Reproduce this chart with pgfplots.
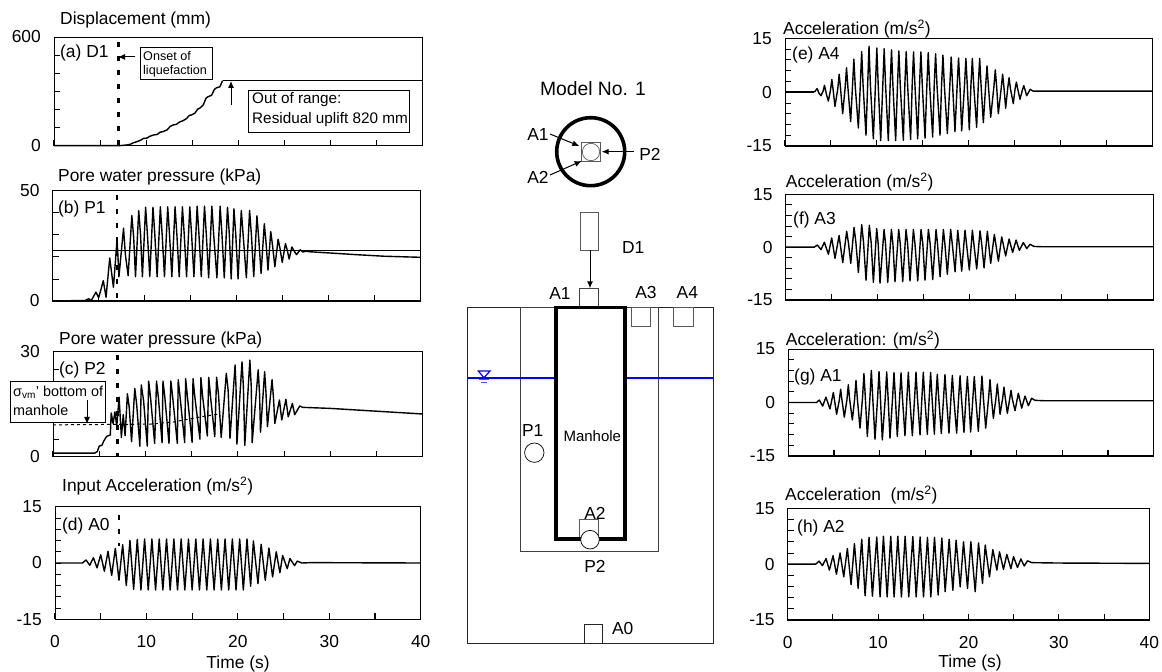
\documentclass[border=0pt]{standalone}
\usepackage{fontspec}
\setmainfont{Liberation Sans}
\usepackage{pgfplots}
\pgfplotsset{compat=1.18}
\usetikzlibrary{arrows.meta}
\definecolor{waterblue}{RGB}{0,0,255}
\pgfplotsset{
  panel/.style={
    scale only axis, anchor=south west, xmin=0, xmax=40,
    xtick={0,5,...,40}, xticklabels={,,,,,,,,},
    tick pos=left, tick align=inside,
    major tick length=6pt,
    xtick style={draw=black,line width=1.1pt},
    ytick style={draw=black,line width=0.8pt},
    axis line style={line width=0.8pt},
    yticklabel style={inner sep=0pt,xshift=-13pt},
    xticklabel style={inner sep=0pt,yshift=-16pt},
    after end axis/.code={
      \draw[line width=1.5pt] (rel axis cs:0,0)--(rel axis cs:1,0);
    },
    clip=false,
    trace/.style={black,line width=1.4pt,line join=round,mark=none},
  },
  acc/.style={ymin=-15,ymax=15,ytick={-15,-12,...,15},yticklabels={-15,,,,,0,,,,,15}},
  labelled/.style={xticklabels={0,,10,,20,,30,,40}},
}
\tikzset{vline/.style={black,line width=2.5pt,dash pattern=on 5pt off 9pt}}
\begin{document}
\begin{tikzpicture}[font=\fontsize{17.4}{20}\selectfont]
\useasboundingbox (0pt,0pt) rectangle (1162pt,672pt);

% (a) D1
\begin{axis}[panel,at={(54pt,526.3pt)},width=368.5pt,height=108.7pt,
  ymin=0,ymax=600,ytick={0,100,...,600},yticklabels={0,,,,,,600}]
\addplot[vline] coordinates {(7,570)(7,0)};
\addplot[trace] coordinates {(0,0)(7,0)(7.5,2)(7.9,4)(8.3,8)(8.6,16)(9,22)(9.4,30)(9.7,40)(10.1,42)(10.4,52)(10.8,59)(11.2,62)(11.5,74)(11.9,79)(12.3,88)(12.6,106)(12.9,114)(13.3,118)(13.6,130)(14,138)(14.4,150)(14.7,168)(14.9,169)(15.3,180)(15.6,202)(15.8,206)(16.2,225)(16.5,262)(16.7,270)(17.1,278)(17.4,310)(17.65,320)(18,325)(18.3,359)};
\addplot[black,line width=0.9pt] coordinates {(18.3,359)(40,359)};
\end{axis}

% (b) P1
\begin{axis}[panel,at={(52.7pt,371pt)},width=368pt,height=110.3pt,
  ymin=0,ymax=50,ytick={0,10,...,50},yticklabels={0,,,,,50}]
\addplot[vline] coordinates {(7,48)(7,0)};
\addplot[black,line width=0.8pt] coordinates {(0,22.8)(40,22.8)};
\addplot[trace] coordinates {(0,0)(3,0.2)(3.5,0.2)(3.9,1)(4.2,0.3)(4.7,4)(5,1.5)(5.5,9.2)(5.8,1.7)(6.2,19.5)(6.6,6.2)(7,28)(7.2,11)(7.7,33)(7.9,21)(8.2,11.5)(8.6,38.7)(8.8,29)(9,11)(9.35,41)(9.55,30)(9.75,11)(10.1,42.5)(10.3,30)(10.55,11)(10.9,42.5)(11.1,30)(11.35,11)(11.7,42.7)(11.9,30)(12.15,11)(12.5,42.7)(12.7,30)(12.95,11)(13.3,42.7)(13.5,30)(13.75,11)(14.1,42.7)(14.3,30)(14.55,11)(14.9,42.7)(15.1,30)(15.35,11)(15.7,43)(15.9,30)(16.15,11)(16.5,43)(16.7,30)(16.95,10.5)(17.3,43)(17.5,30)(17.85,10.5)(18.2,43)(18.4,30)(18.65,10.5)(19,42.5)(19.2,30)(19.4,10)(19.7,41.8)(19.9,30)(20.15,10)(20.5,41)(20.7,30)(21.05,10.5)(21.4,41)(21.6,30)(21.85,11)(22.2,38.6)(22.4,28)(22.65,12.5)(23,35)(23.2,26)(23.4,14)(23.7,31.5)(23.9,25)(24.15,15.5)(24.5,28)(24.7,24)(24.95,17.5)(25.3,26)(25.5,23)(25.7,19)(26,24.5)(26.2,23)(26.5,21)(26.9,23.2)(27.2,22.2)(27.5,22.6)(28,22.3)(30,21.8)(33,21)(36,20.3)(40,19.8)};
\end{axis}

% (c) P2
\begin{axis}[panel,at={(53pt,215.3pt)},width=369.7pt,height=105pt,
  ymin=0,ymax=30,ytick={0,5,...,30},yticklabels={0,,,,,,30}]
\addplot[vline] coordinates {(7,29)(7,0)};
\addplot[black,line width=1pt,dash pattern=on 3pt off 3pt] coordinates {(0,9.1)(10.5,9.3)(13,9.9)(16.2,11.5)(18,12.2)};
\addplot[trace] coordinates {(0,1)(4.5,1)(4.8,1.5)(5,3)(5.3,3.3)(5.5,4.5)(5.8,5.8)(6.2,6.2)(6.3,12.5)(6.5,9.5)(6.7,12.8)(6.9,8.7)(7.15,17)(7.4,5.5)(7.6,12)(7.8,6)(8.05,18)(8.25,14)(8.5,4.3)(8.85,19.5)(9.05,15)(9.4,3)(9.55,20.5)(9.8,16)(10.2,3)(10.35,21.6)(10.55,17)(11,3.8)(11.2,21.6)(11.4,17)(11.8,4)(11.9,21.6)(12.1,17)(12.55,3.8)(12.75,21.6)(12.95,17)(13.45,3.8)(13.55,22)(13.75,17)(14.25,4)(14.35,22.3)(14.55,17)(15.05,4.1)(15.15,22.3)(15.35,17)(15.9,5)(16,22.6)(16.2,17)(16.7,5.9)(16.85,22.7)(17.05,17)(17.5,5.7)(17.7,22.7)(17.9,18)(18.2,5.5)(18.75,23.8)(18.95,19)(19.15,5.2)(19.7,26.2)(19.8,20)(19.9,3.6)(20.45,27.1)(20.6,20)(20.75,3.2)(21.3,27.6)(21.45,20)(21.55,4)(22.2,24.8)(22.35,18)(22.45,7)(22.9,24.3)(23.05,18)(23.2,8.6)(23.7,22)(23.85,17)(24,9.5)(24.5,16.2)(24.75,10.5)(25.2,16.4)(25.45,11.4)(25.9,15.2)(26.15,12)(26.7,14.5)(27,14.1)(30,13.8)(35,13)(40,12.2)};
\end{axis}

% (d) A0
\begin{axis}[panel,acc,labelled,at={(55pt,52.7pt)},width=365.7pt,height=112.6pt]
\addplot[vline] coordinates {(7,12.8)(7,4.5)};
\addplot[trace] coordinates {(0,0)(3,0)(3.4,0.8)(3.8,-0.6)(4.2,1.4)(4.6,-1.3)(5,2.2)(5.4,-2.2)(5.8,3.1)(6.2,-3.3)(6.6,3.9)(7,-4.6)(7.4,4.9)(7.8,-6)(8.2,6)(8.6,-7)(9,6.3)(9.4,-7.2)(9.8,6.4)(10.2,-7.2)(10.6,6.4)(11,-7.2)(11.4,6.4)(11.8,-7.2)(12.2,6.4)(12.6,-7.2)(13,6.4)(13.4,-7.2)(13.8,6.4)(14.2,-7.2)(14.6,6.4)(15,-7.2)(15.4,6.4)(15.8,-7.2)(16.2,6.4)(16.6,-7.2)(17,6.4)(17.4,-7.2)(17.8,6.4)(18.2,-7.2)(18.6,6.4)(19,-7.2)(19.4,6.4)(19.8,-7.2)(20.2,6.4)(20.6,-7.2)(21,6.4)(21.4,-6.2)(21.7,5.9)(22.2,-5.5)(22.55,5)(23,-4.6)(23.4,4)(23.8,-3.7)(24.2,3)(24.6,-2.6)(24.9,2)(25.4,-1.5)(25.7,1.2)(26.2,-0.7)(26.5,0.5)(27,0)(28,0.1)(40,0)};
\end{axis}

% (e) A4
\begin{axis}[panel,acc,at={(785pt,526pt)},width=367.3pt,height=107.7pt]
\addplot[black,line width=1.8pt] coordinates {(0,0)(3.2,0)};
\addplot[trace] coordinates {(3.2,0)(3.5,1)(3.7,-0.3)(3.92,-1)(4.15,0.3)(4.3,1.9)(4.5,-0.5)(4.72,-2.5)(4.95,0.5)(5.1,3.5)(5.25,0.5)(5.44,-4)(5.75,1)(5.9,5)(6.05,1)(6.28,-6)(6.55,1.3)(6.7,6.8)(6.85,1.3)(7.15,-8.2)(7.35,1.6)(7.5,9.2)(7.65,1.6)(7.99,-10)(8.2,2)(8.35,11.3)(8.5,2)(8.82,-12)(9,2)(9.15,12.8)(9.3,2)(9.62,-13)(9.85,2)(10,12.3)(10.15,2)(10.42,-13.5)(10.65,2)(10.8,12.1)(10.95,2)(11.25,-13.5)(11.45,2)(11.6,11.8)(11.75,2)(12.05,-13.5)(12.25,2)(12.4,11.5)(12.55,2)(12.89,-13.4)(13.05,2)(13.2,11.3)(13.35,2)(13.68,-13.2)(13.85,2)(14,11.2)(14.15,2)(14.45,-13)(14.65,2)(14.8,11.2)(14.95,2)(15.25,-12.8)(15.45,2)(15.6,11)(15.75,2)(16.08,-12.5)(16.25,2)(16.4,10.7)(16.55,2)(16.88,-12)(17.05,2)(17.2,10.3)(17.35,2)(17.68,-11.5)(17.95,2)(18.1,9.8)(18.25,2)(18.51,-11)(18.75,2)(18.9,9.5)(19.05,2)(19.24,-10.8)(19.55,2)(19.7,9.4)(19.85,2)(20.07,-10.5)(20.25,2)(20.4,9.4)(20.55,2)(20.87,-9.8)(21.05,2)(21.2,9.4)(21.35,2)(21.6,-8.5)(21.85,1.8)(22,7.3)(22.15,1.8)(22.4,-7)(22.75,1.5)(22.9,6.2)(23.05,1.5)(23.23,-6)(23.55,1.2)(23.7,5)(23.85,1.2)(24.03,-4.5)(24.25,1)(24.4,4)(24.55,1)(24.86,-3.2)(25.05,0.8)(25.2,2.8)(25.35,0.8)(25.59,-2)(25.85,0.6)(26,1.8)(26.15,0.6)(26.32,-1)(26.7,0.8)(27,0.3)(40,0.3)};
\end{axis}

% (f) A3
\begin{axis}[panel,acc,at={(785.7pt,372pt)},width=368pt,height=105.7pt]
\addplot[trace] coordinates {(0,0)(3.1,0)(3.44,0.6)(3.84,-0.7)(4.2,1.4)(4.64,-2)(5,2.6)(5.36,-3.2)(5.8,3.3)(6.2,-4.4)(6.63,4.5)(6.83,1)(7.07,-4.6)(7.43,5.6)(7.63,1.3)(7.9,-7.2)(8.26,6.4)(8.46,1.3)(8.73,-9.4)(9.09,6.2)(9.29,1.3)(9.53,-10)(9.89,5.3)(10.05,1)(10.25,-10.2)(10.69,5)(10.85,1)(11.09,-10)(11.49,5)(11.65,1)(11.88,-9.8)(12.28,5)(12.45,1)(12.72,-9.8)(13.08,5)(13.25,1)(13.51,-9.6)(13.88,5)(14.05,1)(14.35,-9.6)(14.71,5)(14.9,1)(15.14,-9.4)(15.51,5)(15.7,1)(15.98,-9.2)(16.34,5)(16.5,1)(16.78,-8.4)(17.14,5)(17.3,1)(17.57,-7.7)(17.93,5)(18.1,1)(18.41,-7)(18.7,4.8)(18.85,1)(19.13,-6.8)(19.49,4.8)(19.65,1)(19.96,-6.5)(20.29,4.8)(20.45,1)(20.76,-6.2)(21.12,4.6)(21.3,1)(21.56,-5.9)(21.92,4.5)(22.28,-4.6)(22.68,3.6)(23.12,-4)(23.48,2.9)(23.91,-2.5)(24.28,2.3)(24.67,-1.5)(25.04,2)(25.4,-0.9)(25.83,1.3)(26.2,-0.4)(26.56,0.8)(27,0.2)(28,0.1)(40,0.1)};
\end{axis}

% (g) A1
\begin{axis}[panel,acc,at={(788.3pt,216pt)},width=365.4pt,height=107pt]
\addplot[trace] coordinates {(0,0)(3.1,0)(3.39,0.7)(3.76,-1)(4.12,1.5)(4.56,-1.8)(4.93,2.8)(5.29,-3.3)(5.58,0.6)(5.73,3.7)(5.88,0.6)(6.13,-4.1)(6.42,0.8)(6.57,5)(6.72,0.8)(7.01,-4.9)(7.26,1)(7.41,6.2)(7.56,1)(7.85,-7.2)(8.13,1.5)(8.28,8.1)(8.43,1.5)(8.65,-9.5)(8.94,1.5)(9.09,9)(9.24,1.5)(9.49,-10.3)(9.78,1.5)(9.93,8.7)(10.08,1.5)(10.29,-10.5)(10.62,1.5)(10.77,8.6)(10.92,1.5)(11.13,-10)(11.42,1.5)(11.57,8.4)(11.72,1.5)(11.93,-9.5)(12.19,1.5)(12.34,8.3)(12.49,1.5)(12.77,-9.3)(12.99,1.5)(13.14,8.5)(13.29,1.5)(13.58,-9.3)(13.83,1.5)(13.98,8.5)(14.13,1.5)(14.42,-9.1)(14.63,1.5)(14.78,8.5)(14.93,1.5)(15.22,-8.9)(15.43,1.5)(15.58,8.4)(15.73,1.5)(15.99,-8.9)(16.16,1.5)(16.31,7.9)(16.46,1.5)(16.75,-8.7)(17,1.5)(17.15,7.8)(17.3,1.5)(17.59,-8.6)(17.81,1.5)(17.96,7.6)(18.11,1.5)(18.43,-8.6)(18.65,1.5)(18.8,7.5)(18.95,1.5)(19.23,-8.4)(19.45,1.5)(19.6,7.3)(19.75,1.5)(19.96,-8.3)(20.21,1.5)(20.36,7.3)(20.51,1.5)(20.8,-8.1)(21.05,1.5)(21.2,7.4)(21.35,1.5)(21.61,-7.2)(21.93,1.4)(22.08,6.4)(22.23,1.4)(22.45,-4.4)(22.73,1.2)(22.88,5.2)(23.03,1.2)(23.18,-3.3)(23.46,1.1)(23.61,4.3)(23.76,1.1)(23.98,-3)(24.23,0.9)(24.38,3.4)(24.53,0.9)(24.82,-2.3)(25.18,2.6)(25.55,-1.6)(25.91,1.8)(26.28,-0.9)(26.64,1.2)(27,0.6)(28,0.5)(40,0.5)};
\end{axis}

% (h) A2
\begin{axis}[panel,acc,labelled,at={(787.7pt,52pt)},width=361.6pt,height=111.7pt]
\addplot[trace] coordinates {(0,0)(3.1,0)(3.47,0.8)(3.84,-0.4)(4.24,1.5)(4.61,-1.6)(5.02,2.3)(5.39,-2.7)(5.79,3)(6.2,-3.4)(6.6,4.2)(7.01,-5.5)(7.38,5.5)(7.79,-6.5)(8.19,6.7)(8.56,-8.5)(9,7.2)(9.37,-8.6)(9.85,7.3)(10.22,-8.8)(10.59,7.5)(11,-8.8)(11.4,7.5)(11.77,-8.8)(12.18,7.5)(12.58,-8.8)(12.99,7.5)(13.39,-8.8)(13.84,7.4)(14.21,-8.8)(14.65,7.3)(15.02,-8.8)(15.46,7.2)(15.83,-8.8)(16.24,7.2)(16.64,-8.3)(17.05,7)(17.42,-7.4)(17.86,6.7)(18.27,-7)(18.63,6.4)(19.08,-6.1)(19.45,6)(19.89,-6.5)(20.26,6)(20.74,-7.4)(21.11,5.7)(21.55,-5.2)(21.85,5.1)(22.32,-3.4)(22.69,3.9)(23.14,-1.6)(23.43,3.3)(23.87,-1.4)(24.24,2.6)(24.69,-1.2)(24.98,2)(25.42,-0.9)(25.79,1.4)(26.16,-0.5)(26.53,0.9)(27,0.4)(30,0.3)(40,0.2)};
\end{axis}

% Annotations and diagram, in reference pixels
\begin{scope}[x=1pt,y=-1pt,yshift=672pt]
  \tikzset{lab/.style={anchor=west,inner sep=0pt},ctr/.style={inner sep=0pt},
           arr/.style={black,line width=1pt,-{Latex[length=7pt,width=6pt]}}}
  % titles
  \node[lab] at (60,20) {Displacement (mm)};
  \node[lab] at (58,177) {Pore water pressure (kPa)};
  \node[lab] at (59,340) {Pore water pressure (kPa)};
  \node[lab] at (62,486) {Input Acceleration (m/s\textsuperscript{2})};
  \node[lab] at (783,29) {Acceleration (m/s\textsuperscript{2})};
  \node[lab] at (785.7,182) {Acceleration (m/s\textsuperscript{2})};
  \node[lab] at (785.7,340) {Acceleration: (m/s\textsuperscript{2})};
  \node[lab] at (785,495) {Acceleration~ (m/s\textsuperscript{2})};
  \node[ctr] at (238,664) {Time (s)};
  \node[ctr] at (970,663) {Time (s)};
  % panel labels
  \node[lab] at (60,53) {(a) D1};
  \node[lab] at (58,209) {(b) P1};
  \node[lab] at (59,370) {(c) P2};
  \node[lab] at (62,526) {(d) A0};
  \node[lab] at (792,55) {(e) A4};
  \node[lab] at (793,220) {(f) A3};
  \node[lab] at (794,377) {(g) A1};
  \node[lab] at (797,528) {(h) A2};
  % notes on (a)
  \draw[black,line width=0.8pt,fill=white] (140,47) rectangle (212,79);
  \node[lab,font=\fontsize{12.6}{14}\selectfont] at (143,56) {Onset of};
  \node[lab,font=\fontsize{12.6}{14}\selectfont] at (143,71) {liquefaction};
  \draw[arr] (135,57) -- (118,57);
  \draw[black,line width=0.8pt,fill=white] (248,90) rectangle (409,132);
  \node[lab,font=\fontsize{15.3}{18}\selectfont] at (252,100) {Out of range:};
  \node[lab,font=\fontsize{15.3}{18}\selectfont] at (252,120) {Residual uplift 820 mm};
  \draw[arr] (231,105) -- (231,81);
  % note on (c)
  \draw[black,line width=0.8pt,fill=white] (10,381) rectangle (105,422);
  \node[lab,font=\fontsize{14.4}{16}\selectfont] at (13,392) {σ\textsubscript{vm}' bottom of};
  \node[lab,font=\fontsize{14.4}{16}\selectfont] at (13,410) {manhole};
  \draw[arr] (87,400) -- (87,424);
  % diagram: top view
  \node[ctr,font=\fontsize{19.3}{22}\selectfont] at (593,89) {Model No. 1};
  \draw[black,line width=3.6pt] (590.7,151.7) circle (34);
  \draw[gray!70!black,line width=0.8pt] (581.7,142.3) rectangle (600.7,161.3);
  \draw[gray!70!black,line width=0.7pt] (591,152) circle (8.7);
  \draw[arr] (550,134) -- (579.3,146);
  \draw[arr] (550,175) -- (581.7,161);
  \draw[arr] (634,151.7) -- (601.7,151.7);
  \node[ctr] at (538,135) {A1};
  \node[ctr] at (538,177.7) {A2};
  \node[ctr] at (650,154) {P2};
  % diagram: section
  \draw[gray!70!black,line width=0.8pt] (580.7,212.3) rectangle (598.3,250);
  \draw[arr] (590,250) -- (590,288.3);
  \node[ctr] at (633.3,247.7) {D1};
  \draw[black!85,line width=0.8pt] (467.3,307.3) rectangle (713.3,643.3);
  \draw[black!75,line width=0.8pt] (520.7,307.3) rectangle (658.7,551.7);
  \draw[black!75,line width=0.8pt] (579.7,307.3) -- (579.7,288.3) -- (598.3,288.3) -- (598.3,307.3);
  \node[ctr] at (560,294) {A1};
  \node[ctr] at (646,292.3) {A3};
  \node[ctr] at (687.3,292.3) {A4};
  \draw[gray!70!black,line width=0.8pt] (631.7,307.3) rectangle (650.7,326.3);
  \draw[gray!70!black,line width=0.8pt] (673.7,307.3) rectangle (693,326.3);
  \draw[gray!70!black,line width=0.9pt] (579.7,540) -- (579.7,519.3) -- (598.3,519.3) -- (598.3,540);
  \draw[black,line width=3.2pt] (556,307.3) rectangle (625,539);
  \draw[color=waterblue,line width=1.8pt] (467.3,377.7) -- (554.4,377.7);
  \draw[color=waterblue,line width=1.8pt] (626.6,377.7) -- (712.7,377.7);
  \draw[color=waterblue,line width=1.2pt] (478.3,371) -- (490,371) -- (484,377.7) -- cycle;
  \draw[blue!70,line width=1pt] (479.3,380) -- (488.7,380);
  \draw[blue!70,line width=1pt] (481,382.3) -- (487.3,382.3);
  \draw[black,line width=0.7pt,fill=white] (534.3,452.7) circle (9.7);
  \draw[black,line width=0.7pt,fill=white] (590,539.7) circle (9.3);
  \node[ctr] at (532.7,430.7) {P1};
  \node[ctr,font=\fontsize{15}{17}\selectfont] at (592.3,436) {Manhole};
  \node[ctr] at (595,513.3) {A2};
  \node[ctr] at (595,566.7) {P2};
  \draw[black!85,line width=0.8pt] (584.3,643.3) -- (584.3,624.3) -- (602.7,624.3) -- (602.7,643.3);
  \node[ctr] at (622.7,628.7) {A0};
\end{scope}
\end{tikzpicture}
\end{document}
